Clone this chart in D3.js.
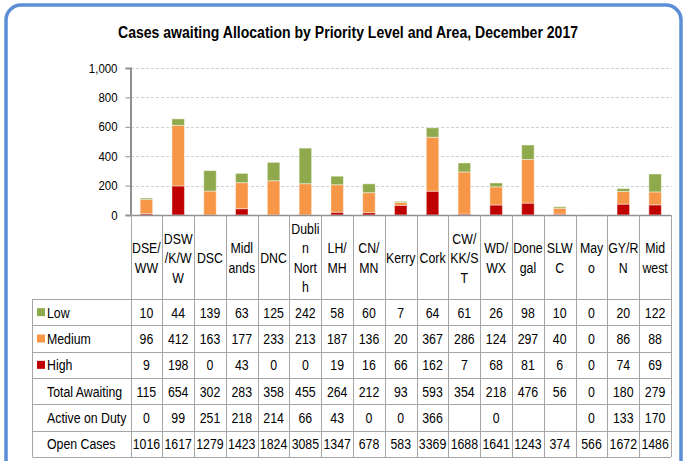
<!DOCTYPE html>
<html>
<head>
<meta charset="utf-8">
<script src="https://cdn.jsdelivr.net/npm/d3@7"></script>
<style>
  body { margin: 0; background: #fff; }
  svg text { font-family: "Liberation Sans", Arial, sans-serif; fill: #000; }
</style>
</head>
<body>
<div id="chart"></div>
<script>
var width = 684;
var height = 461;

// data
var areas = ["DSE/WW", "DSW/K/WW", "DSC", "Midlands", "DNC", "Dublin North", "LH/MH", "CN/MN", "Kerry", "Cork",
             "CW/KK/ST", "WD/WX", "Donegal", "SLWC", "Mayo", "GY/RN", "Midwest"];
var areaLabels = [["DSE/", "WW"], ["DSW", "/K/W", "W"], ["DSC"], ["Midl", "ands"], ["DNC"], ["Dubli", "n", "Nort", "h"],
                  ["LH/", "MH"], ["CN/", "MN"], ["Kerry"], ["Cork"], ["CW/", "KK/S", "T"], ["WD/", "WX"], ["Done", "gal"],
                  ["SLW", "C"], ["May", "o"], ["GY/R", "N"], ["Mid", "west"]];
var low    = [10, 44, 139, 63, 125, 242, 58, 60, 7, 64, 61, 26, 98, 10, 0, 20, 122];
var medium = [96, 412, 163, 177, 233, 213, 187, 136, 20, 367, 286, 124, 297, 40, 0, 86, 88];
var high   = [9, 198, 0, 43, 0, 0, 19, 16, 66, 162, 7, 68, 81, 6, 0, 74, 69];
var totalAwaiting = [115, 654, 302, 283, 358, 455, 264, 212, 93, 593, 354, 218, 476, 56, 0, 180, 279];
var activeOnDuty  = [0, 99, 251, 218, 214, 66, 43, 0, 0, 366, "", 0, "", "", 0, 133, 170];
var openCases     = [1016, 1617, 1279, 1423, 1824, 3085, 1347, 678, 583, 3369, 1688, 1641, 1243, 374, 566, 1672, 1486];
var yTicks = [0, 200, 400, 600, 800, 1000];

var series = [
    {name: "High", color: "#c00000", values: high},
    {name: "Medium", color: "#f79646", values: medium},
    {name: "Low", color: "#8faa4c", values: low}
];
var rows = [
    {name: "Low", color: "#8faa4c", values: low},
    {name: "Medium", color: "#f79646", values: medium},
    {name: "High", color: "#c00000", values: high},
    {name: "Total Awaiting", values: totalAwaiting},
    {name: "Active on Duty", values: activeOnDuty},
    {name: "Open Cases", values: openCases}
];

// Calibri is narrower than Arial, so squeeze text horizontally
function squeeze(sel, k) {
    sel.each(function() {
        var w = this.getComputedTextLength();
        if (w > 0) {
            d3.select(this).attr("textLength", w * k).attr("lengthAdjust", "spacingAndGlyphs");
        }
    });
}

var svg = d3.select("#chart")
            .append("svg")
            .attr("width", width)
            .attr("height", height);

// rounded frame
svg.append("rect")
    .attr("x", 6).attr("y", 5)
    .attr("width", 675).attr("height", 480)
    .attr("rx", 15)
    .attr("fill", "#fff")
    .attr("stroke", "#5b8ed6")
    .attr("stroke-width", 3.5);

svg.append("text")
    .attr("x", 348).attr("y", 38)
    .attr("text-anchor", "middle")
    .attr("textLength", 460)
    .attr("lengthAdjust", "spacingAndGlyphs")
    .style("font-size", "16px")
    .style("font-weight", "bold")
    .text("Cases awaiting Allocation by Priority Level and Area, December 2017");

var x = d3.scaleBand()
    .domain(areas)
    .range([130.5, 671]);

var y = d3.scaleLinear()
    .domain([0, 1000])
    .range([215, 68]);

var rowY = d3.scaleBand()
    .domain(rows.map(function(r) { return r.name; }))
    .range([299, 457]);

// gridlines
svg.append("g")
    .selectAll("line")
    .data(yTicks.slice(1))
    .enter()
    .append("line")
    .attr("x1", 131).attr("x2", 672)
    .attr("y1", function(d) { return Math.round(y(d)) + 0.5; })
    .attr("y2", function(d) { return Math.round(y(d)) + 0.5; })
    .attr("stroke", "#d0d0d0")
    .attr("stroke-dasharray", "3,2");

// y axis
var yAxis = svg.append("g")
    .attr("transform", "translate(130.5,0)")
    .call(d3.axisLeft(y).tickValues(yTicks).tickSize(5).tickPadding(8).tickFormat(d3.format(",")));
yAxis.select(".domain").attr("stroke", "#909090").attr("stroke-width", 2);
yAxis.selectAll(".tick line").attr("stroke", "#909090");
yAxis.selectAll(".tick text").style("font-size", "13px").call(squeeze, 0.88);

// stacked bars
var stack = d3.stack()
    .keys(series.map(function(s) { return s.name; }))
    .value(function(i, key) {
        return series.find(function(s) { return s.name === key; }).values[i];
    });
var stacked = stack(d3.range(areas.length));
var barW = 12.5;

svg.append("g")
    .selectAll("g")
    .data(stacked)
    .enter()
    .append("g")
    .attr("fill", function(d, i) { return series[i].color; })
    .selectAll("rect")
    .data(function(d) { return d.map(function(v, i) { return {v: v, i: i}; }); })
    .enter()
    .filter(function(d) { return d.v[1] > d.v[0]; })
    .append("rect")
    .attr("x", function(d) { return x(areas[d.i]) + x.bandwidth() / 2 - barW / 2; })
    .attr("y", function(d) { return y(d.v[1]); })
    .attr("width", barW)
    .attr("height", function(d) { return y(d.v[0]) - y(d.v[1]); })
    .attr("stroke", "rgba(255,255,255,0.45)")
    .attr("stroke-width", 1);

// x axis line
svg.append("line")
    .attr("x1", 130.5).attr("x2", 671)
    .attr("y1", 215.5).attr("y2", 215.5)
    .attr("stroke", "#909090")
    .attr("stroke-width", 1.5);

// data table
var table = svg.append("g");
var lineColor = "#a6a6a6";

// vertical column lines
table.selectAll(".col")
    .data(areas.concat(["end"]))
    .enter()
    .append("line")
    .attr("x1", function(d, i) { return Math.round(x.range()[0] + i * x.bandwidth()) + 0.5; })
    .attr("x2", function(d, i) { return Math.round(x.range()[0] + i * x.bandwidth()) + 0.5; })
    .attr("y1", 215).attr("y2", 457)
    .attr("stroke", lineColor);

table.append("line")
    .attr("x1", 32.5).attr("x2", 32.5)
    .attr("y1", 299).attr("y2", 457)
    .attr("stroke", lineColor);

// horizontal row lines
table.selectAll(".row")
    .data(rows.map(function(r) { return r.name; }).concat(["end"]))
    .enter()
    .append("line")
    .attr("x1", 32.5).attr("x2", 671)
    .attr("y1", function(d, i) { return Math.round(299 + i * rowY.bandwidth()) + 0.5; })
    .attr("y2", function(d, i) { return Math.round(299 + i * rowY.bandwidth()) + 0.5; })
    .attr("stroke", lineColor);

// header labels
table.selectAll(".hdr")
    .data(areaLabels)
    .enter()
    .append("text")
    .attr("text-anchor", "middle")
    .style("font-size", "14px")
    .each(function(lines, i) {
        var cx = x(areas[i]) + x.bandwidth() / 2;
        var top = 258 - (lines.length - 1) * 19.5 / 2 + 5;
        d3.select(this).selectAll("tspan")
            .data(lines)
            .enter()
            .append("tspan")
            .attr("x", cx)
            .attr("y", function(l, k) { return top + k * 19.5; })
            .text(function(l) { return l; })
            .call(squeeze, 0.88);
    });

// row labels + legend keys
var rowG = table.selectAll(".rowlab")
    .data(rows)
    .enter()
    .append("g")
    .attr("transform", function(d) { return "translate(0," + (rowY(d.name) + rowY.bandwidth() / 2) + ")"; });

rowG.filter(function(d) { return d.color; })
    .append("rect")
    .attr("x", 37).attr("y", -4)
    .attr("width", 8).attr("height", 8)
    .attr("fill", function(d) { return d.color; });

rowG.append("text")
    .attr("x", 47).attr("y", 5.5)
    .style("font-size", "14px")
    .text(function(d) { return d.name; })
    .call(squeeze, 0.88);

rowG.selectAll(".val")
    .data(function(d) { return d.values; })
    .enter()
    .append("text")
    .attr("x", function(v, i) { return x(areas[i]) + x.bandwidth() / 2; })
    .attr("y", 5.5)
    .attr("text-anchor", "middle")
    .style("font-size", "14px")
    .text(function(v) { return v; })
    .call(squeeze, 0.88);
</script>
</body>
</html>
